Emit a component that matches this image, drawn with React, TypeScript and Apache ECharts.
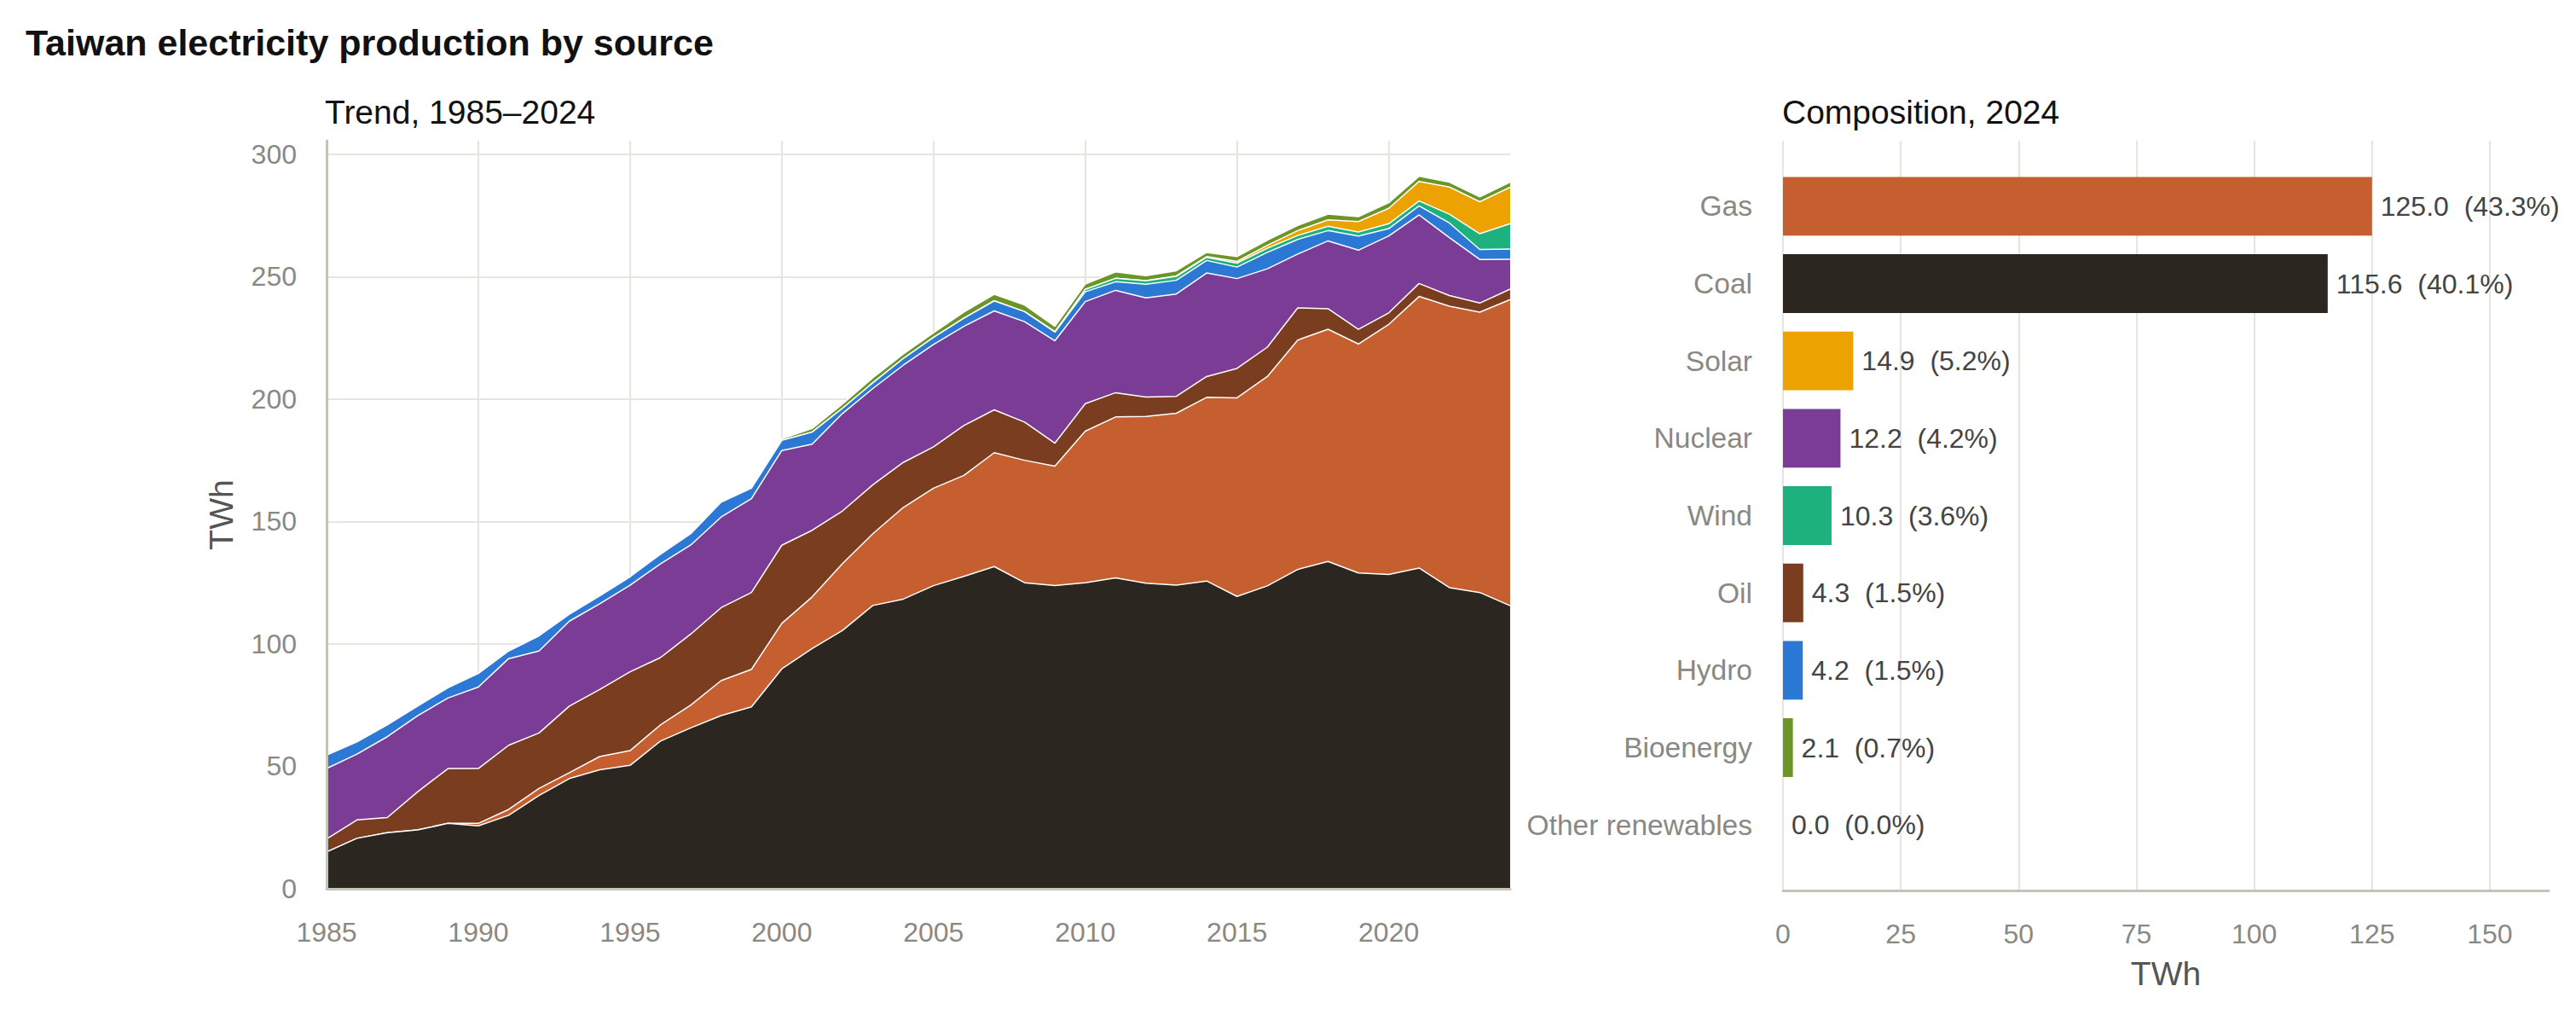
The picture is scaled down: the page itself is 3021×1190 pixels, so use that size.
import React, { useEffect, useRef } from 'react';
import * as echarts from 'echarts';

// years on the trend chart
const years = [
  '1985', '1986', '1987', '1988', '1989', '1990', '1991', '1992', '1993', '1994',
  '1995', '1996', '1997', '1998', '1999', '2000', '2001', '2002', '2003', '2004',
  '2005', '2006', '2007', '2008', '2009', '2010', '2011', '2012', '2013', '2014',
  '2015', '2016', '2017', '2018', '2019', '2020', '2021', '2022', '2023', '2024',
];

// TWh per source
const coal = [
  15.0, 20.6, 22.9, 24.0, 26.7, 25.7, 30.0, 38.1, 45.0, 48.6,
  50.4, 60.3, 65.7, 70.7, 74.3, 89.8, 98.1, 105.5, 115.7, 118.3,
  123.8, 127.6, 131.6, 125.0, 123.8, 125.0, 127.0, 124.8, 124.0, 125.7,
  119.4, 123.7, 130.4, 133.7, 129.0, 128.4, 131.0, 123.0, 121.0, 115.6,
];
const gas = [
  0, 0, 0, 0, 0, 1.0, 2.4, 2.9, 2.4, 5.4,
  6.0, 6.6, 9.3, 14.3, 15.3, 18.6, 21.1, 27.3, 29.3, 37.4,
  39.8, 41.2, 46.5, 50.0, 48.8, 61.9, 65.7, 68.1, 70.2, 75.0,
  81.1, 85.5, 93.7, 94.8, 93.5, 102.1, 110.9, 114.9, 114.5, 125.0,
];
const oil = [
  5.3, 7.5, 6.2, 15.6, 22.4, 22.4, 26.2, 22.6, 27.2, 27.4,
  32.2, 27.5, 29.0, 29.8, 31.4, 31.9, 27.2, 21.5, 20.0, 18.4,
  16.9, 20.4, 17.5, 15.6, 9.4, 11.2, 9.9, 7.9, 6.9, 8.5,
  12.0, 12.0, 13.1, 8.4, 6.0, 4.7, 5.3, 4.4, 3.7, 4.3,
];
const nuclear = [
  28.8, 26.9, 33.0, 31.1, 28.8, 33.3, 35.4, 33.5, 34.7, 35.0,
  35.4, 38.3, 36.4, 37.0, 38.3, 38.7, 35.2, 39.8, 39.3, 39.7,
  41.8, 40.5, 40.4, 41.0, 41.8, 41.7, 41.8, 40.5, 41.8, 42.3,
  36.7, 32.0, 22.0, 27.7, 32.3, 31.4, 28.0, 23.6, 17.8, 12.2,
];
const hydro = [
  5.5, 5.0, 4.8, 3.9, 4.2, 5.5, 3.1, 6.2, 2.8, 3.2,
  3.4, 3.9, 4.6, 6.1, 4.3, 4.1, 4.9, 2.1, 2.3, 2.7,
  2.9, 3.3, 4.1, 4.1, 3.5, 4.0, 3.5, 5.6, 5.6, 5.1,
  4.7, 6.7, 6.0, 4.2, 5.8, 3.0, 3.7, 6.0, 4.1, 4.2,
];
const wind = [
  0, 0, 0, 0, 0, 0, 0, 0, 0, 0,
  0, 0, 0, 0, 0, 0, 0, 0, 0, 0,
  0, 0, 0, 0, 0.2, 1.0, 1.4, 1.4, 1.6, 1.3,
  1.6, 1.7, 1.6, 1.8, 1.6, 2.0, 2.0, 3.6, 6.4, 10.3,
];
const solar = [
  0, 0, 0, 0, 0, 0, 0, 0, 0, 0,
  0, 0, 0, 0, 0, 0, 0, 0, 0, 0,
  0, 0, 0, 0, 0, 0, 0, 0.1, 0.2, 0.3,
  0.7, 1.2, 2.0, 2.6, 4.3, 6.3, 8.0, 11.1, 13.1, 14.9,
];
const bioenergy = [
  0, 0, 0, 0, 0, 0, 0, 0, 0, 0,
  0, 0, 0, 0, 0, 0.6, 1.5, 1.8, 2.1, 1.9,
  1.9, 2.5, 2.7, 2.7, 2.2, 2.2, 2.6, 2.0, 2.1, 1.7,
  2.0, 2.1, 2.1, 2.3, 2.0, 2.3, 2.1, 2.0, 2.0, 2.1,
];
const otherRenewables = [
  0, 0, 0, 0, 0, 0, 0, 0, 0, 0,
  0, 0, 0, 0, 0, 0, 0, 0, 0, 0,
  0, 0, 0, 0, 0, 0, 0, 0, 0, 0,
  0, 0, 0, 0, 0, 0, 0, 0, 0, 0,
];

// stacking order, bottom to top
const sourceNames = ['Coal', 'Gas', 'Oil', 'Nuclear', 'Hydro', 'Wind', 'Solar', 'Bioenergy', 'Other renewables'];
const sourceValues = [coal, gas, oil, nuclear, hydro, wind, solar, bioenergy, otherRenewables];
const sourceColors = ['#2c2621', '#c65f30', '#7a3d1f', '#7b3c95', '#2b78d5', '#1db17d', '#eca200', '#6b9526', '#a8a8a8'];

const yTicks = [0, 50, 100, 150, 200, 250, 300];

const FONT = '"Liberation Sans", Arial, Helvetica, sans-serif';
const GRID_COLOR = '#e6e5df';
const SPINE_COLOR = '#c5c4b8';
const TICK_COLOR = '#898983';

const App = () => {
  const chartRef = useRef<HTMLDivElement>(null);

  useEffect(() => {
    document.body.style.margin = '0';
    if (!chartRef.current) return;
    const chart = echarts.init(chartRef.current, null, { renderer: 'svg' });

    // 2024 composition, sorted largest first
    const last = years.length - 1;
    const composition = sourceNames
      .map((name, i) => ({ name, value: sourceValues[i][last], color: sourceColors[i] }))
      .sort((a, b) => b.value - a.value);
    const total = composition.reduce((s, d) => s + d.value, 0);

    const areaSeries = sourceNames.map((name, i) => ({
      name,
      type: 'line',
      xAxisIndex: 0,
      yAxisIndex: 0,
      stack: 'total',
      symbol: 'none',
      z: 30 - i,
      lineStyle: { color: '#ffffff', width: name === 'Other renewables' ? 0 : 1.5 },
      areaStyle: { color: sourceColors[i], opacity: 1 },
      data: sourceValues[i],
    }));

    const option = {
      animation: false,
      textStyle: { fontFamily: FONT },
      title: [
        {
          text: 'Taiwan electricity production by source',
          left: 30,
          top: 28,
          padding: 0,
          textStyle: { fontSize: 43, fontWeight: 'bold', color: '#111111', fontFamily: FONT },
        },
        {
          text: 'Trend, 1985–2024',
          left: 381,
          top: 112,
          padding: 0,
          textStyle: { fontSize: 39, fontWeight: 'normal', color: '#111111', fontFamily: FONT },
        },
        {
          text: 'Composition, 2024',
          left: 2090,
          top: 112,
          padding: 0,
          textStyle: { fontSize: 39, fontWeight: 'normal', color: '#111111', fontFamily: FONT },
        },
      ],
      grid: [
        { left: 383, top: 165, width: 1388, height: 877 },
        { left: 2091, top: 165, width: 898, height: 879 },
        { left: 2091, top: 196.5, width: 898, height: 816 },
      ],
      xAxis: [
        {
          gridIndex: 0,
          type: 'category',
          data: years,
          boundaryGap: false,
          axisLine: { show: false },
          axisTick: { show: false },
          axisLabel: { color: TICK_COLOR, fontSize: 32, margin: 35, interval: 4 },
          splitLine: { show: true, interval: 4, lineStyle: { color: GRID_COLOR, width: 2.2 } },
        },
        {
          gridIndex: 1,
          type: 'value',
          min: 0,
          max: 162.5,
          interval: 25,
          name: 'TWh',
          nameLocation: 'middle',
          nameGap: 78,
          nameTextStyle: { fontSize: 39, color: '#555555', fontFamily: FONT },
          axisLine: { show: true, lineStyle: { color: SPINE_COLOR, width: 3 } },
          axisTick: { show: false },
          axisLabel: { color: TICK_COLOR, fontSize: 32, margin: 35, showMaxLabel: false },
          splitLine: { show: true, showMaxLine: false, lineStyle: { color: GRID_COLOR, width: 2.2 } },
        },
        {
          gridIndex: 2,
          type: 'value',
          min: 0,
          max: 162.5,
          show: false,
        },
        {
          // bottom spine of the trend chart, drawn above the areas
          gridIndex: 0,
          type: 'category',
          data: years,
          boundaryGap: false,
          z: 40,
          axisLine: { show: true, lineStyle: { color: SPINE_COLOR, width: 3 } },
          axisTick: { show: false },
          axisLabel: { show: false },
          splitLine: { show: false },
        },
      ],
      yAxis: [
        {
          gridIndex: 0,
          type: 'value',
          min: 0,
          max: 305.5,
          interval: 50,
          name: 'TWh',
          nameLocation: 'middle',
          nameGap: 104,
          nameTextStyle: { fontSize: 39, color: '#555555', fontFamily: FONT },
          axisLine: { show: false },
          axisTick: { show: false },
          axisLabel: {
            color: TICK_COLOR,
            fontSize: 32,
            margin: 35,
            showMaxLabel: false,
            formatter: (v: number) => (yTicks.includes(v) ? String(v) : ''),
          },
          splitLine: { show: true, showMinLine: false, showMaxLine: false, lineStyle: { color: GRID_COLOR, width: 2.2 } },
        },
        {
          gridIndex: 1,
          type: 'value',
          min: 0,
          max: 1,
          show: false,
        },
        {
          gridIndex: 2,
          type: 'category',
          inverse: true,
          data: composition.map((d) => d.name),
          axisLine: { show: false },
          axisTick: { show: false },
          splitLine: { show: false },
          axisLabel: { color: TICK_COLOR, fontSize: 33.5, margin: 36 },
        },
        {
          // left spine of the trend chart, drawn above the areas
          gridIndex: 0,
          type: 'value',
          position: 'left',
          min: 0,
          max: 305.5,
          z: 40,
          axisLine: { show: true, lineStyle: { color: SPINE_COLOR, width: 3 } },
          axisTick: { show: false },
          axisLabel: { show: false },
          splitLine: { show: false },
        },
      ],
      series: [
        ...areaSeries,
        {
          name: 'Composition 2024',
          type: 'bar',
          xAxisIndex: 2,
          yAxisIndex: 2,
          barCategoryGap: '24%',
          data: composition.map((d) => ({ value: d.value, itemStyle: { color: d.color } })),
          label: {
            show: true,
            position: 'right',
            distance: 10,
            color: '#444444',
            fontSize: 32,
            fontFamily: FONT,
            formatter: (p: { value: number }) =>
              `${p.value.toFixed(1)}  (${((p.value / total) * 100).toFixed(1)}%)`,
          },
        },
      ],
    };

    chart.setOption(option);

    return () => {
      chart.dispose();
    };
  }, []);

  return <div ref={chartRef} style={{ width: 3021, height: 1190 }} />;
};

export default App;
